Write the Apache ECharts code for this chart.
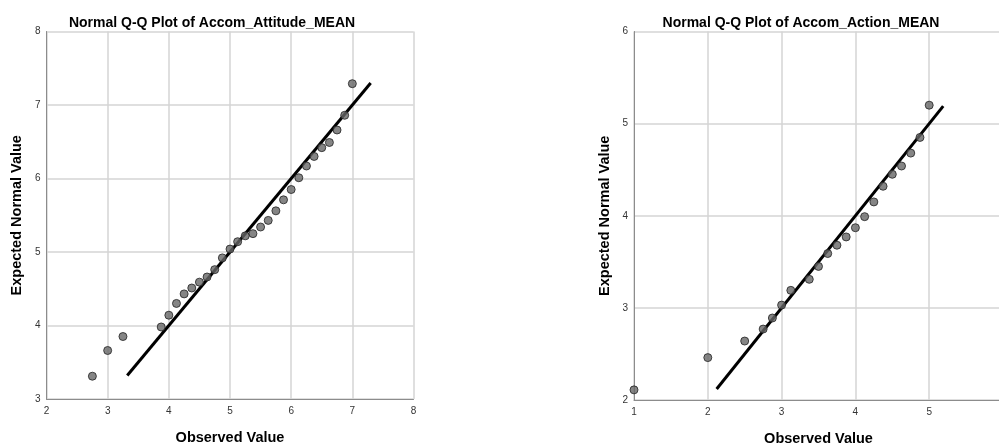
<!DOCTYPE html>
<html lang="en">
<head>
    <meta charset="UTF-8">
    <title>Normal Q-Q Plots</title>
    <style>
        html, body {
            margin: 0;
            padding: 0;
            background: #fff;
        }
        #main {
            width: 999px;
            height: 446px;
        }
    </style>
    <script src="https://cdn.jsdelivr.net/npm/echarts@6/dist/echarts.min.js"></script>
</head>
<body>
<div id="main"></div>
<script>
    // Accom_Attitude_MEAN: observed vs expected normal value
    var attitudeObserved = [2.75, 3, 3.25, 3.875, 4, 4.125, 4.25, 4.375, 4.5, 4.625, 4.75, 4.875, 5, 5.125, 5.25,
        5.375, 5.5, 5.625, 5.75, 5.875, 6, 6.125, 6.25, 6.375, 6.5, 6.625, 6.75, 6.875, 7];
    var attitudeExpected = [3.31, 3.66, 3.85, 3.98, 4.14, 4.30, 4.43, 4.51, 4.59, 4.66, 4.76, 4.92, 5.04, 5.14, 5.22,
        5.25, 5.34, 5.43, 5.56, 5.71, 5.85, 6.01, 6.17, 6.30, 6.42, 6.49, 6.66, 6.86, 7.29];
    var attitudeLine = [3.32, 7.3];

    // Accom_Action_MEAN
    var actionObserved = [1, 2, 2.5, 2.75, 2.875, 3, 3.125, 3.375, 3.5, 3.625, 3.75, 3.875, 4, 4.125, 4.25,
        4.375, 4.5, 4.625, 4.75, 4.875, 5];
    var actionExpected = [2.11, 2.46, 2.64, 2.77, 2.89, 3.03, 3.19, 3.31, 3.45, 3.59, 3.68, 3.77, 3.87, 3.99, 4.15,
        4.32, 4.45, 4.54, 4.68, 4.85, 5.20];
    var actionLine = [2.12, 5.19];

    var leftXTicks = [2, 8];   // min, max
    var leftYTicks = [3, 8];
    var rightXTicks = [1, 6];
    var rightYTicks = [2, 6];

    function pairs(xs, ys) {
        return xs.map(function (x, i) {
            return [x, ys[i]];
        });
    }

    var fontFamily = 'Arial, "Liberation Sans", sans-serif';

    function xAxisFor(idx, ticks, hideMax) {
        return {
            gridIndex: idx,
            type: 'value',
            min: ticks[0],
            max: ticks[1],
            interval: 1,
            name: 'Observed Value',
            nameLocation: 'middle',
            nameGap: 31,
            nameTextStyle: {color: '#000', fontSize: 14.5, fontWeight: 'bold', fontFamily: fontFamily},
            axisLine: {show: true, lineStyle: {color: '#8c8c8c', width: 1}},
            axisTick: {show: false},
            axisLabel: {color: '#333', fontSize: 10, margin: 7, fontFamily: fontFamily, showMaxLabel: !hideMax},
            splitLine: {show: true, lineStyle: {color: '#d4d4d4', width: 1.5}}
        };
    }

    function yAxisFor(idx, ticks) {
        return {
            gridIndex: idx,
            type: 'value',
            min: ticks[0],
            max: ticks[1],
            interval: 1,
            name: 'Expected Normal Value',
            nameLocation: 'middle',
            nameGap: 22,
            nameTextStyle: {color: '#000', fontSize: 14.5, fontWeight: 'bold', fontFamily: fontFamily},
            axisLine: {show: true, lineStyle: {color: '#8c8c8c', width: 1}},
            axisTick: {show: false},
            axisLabel: {color: '#333', fontSize: 10, margin: 6, fontFamily: fontFamily},
            splitLine: {show: true, lineStyle: {color: '#d4d4d4', width: 1.5}}
        };
    }

    var pointStyle = {color: '#666', borderColor: '#222', borderWidth: 1};

    var myChart = echarts.init(document.getElementById('main'), null, {renderer: 'canvas'});
    var option = {
        backgroundColor: '#fff',
        animation: false,
        title: [
            {
                text: 'Normal Q-Q Plot of Accom_Attitude_MEAN',
                left: 207, top: 11, textAlign: 'center',
                textStyle: {fontSize: 14, fontWeight: 'bold', color: '#000', fontFamily: fontFamily}
            },
            {
                text: 'Normal Q-Q Plot of Accom_Action_MEAN',
                left: 796, top: 11, textAlign: 'center',
                textStyle: {fontSize: 14, fontWeight: 'bold', color: '#000', fontFamily: fontFamily}
            }
        ],
        grid: [
            {left: 46.5, top: 31.5, width: 367, height: 367.5, outerBoundsMode: 'none'},
            {left: 634, top: 31.5, width: 369, height: 368.5, outerBoundsMode: 'none'}
        ],
        xAxis: [xAxisFor(0, leftXTicks, false), xAxisFor(1, rightXTicks, true)],
        yAxis: [yAxisFor(0, leftYTicks), yAxisFor(1, rightYTicks)],
        series: [
            {
                type: 'line',
                xAxisIndex: 0, yAxisIndex: 0,
                data: pairs(attitudeLine, attitudeLine),
                symbol: 'none',
                lineStyle: {color: '#000', width: 3},
                z: 2
            },
            {
                type: 'scatter',
                xAxisIndex: 0, yAxisIndex: 0,
                data: pairs(attitudeObserved, attitudeExpected),
                symbolSize: 8,
                itemStyle: pointStyle,
                z: 3
            },
            {
                type: 'line',
                xAxisIndex: 1, yAxisIndex: 1,
                data: pairs(actionLine, actionLine),
                symbol: 'none',
                lineStyle: {color: '#000', width: 3},
                z: 2
            },
            {
                type: 'scatter',
                xAxisIndex: 1, yAxisIndex: 1,
                data: pairs(actionObserved, actionExpected),
                symbolSize: 8,
                itemStyle: pointStyle,
                z: 3
            }
        ]
    };
    option && myChart.setOption(option);
</script>
</body>
</html>
